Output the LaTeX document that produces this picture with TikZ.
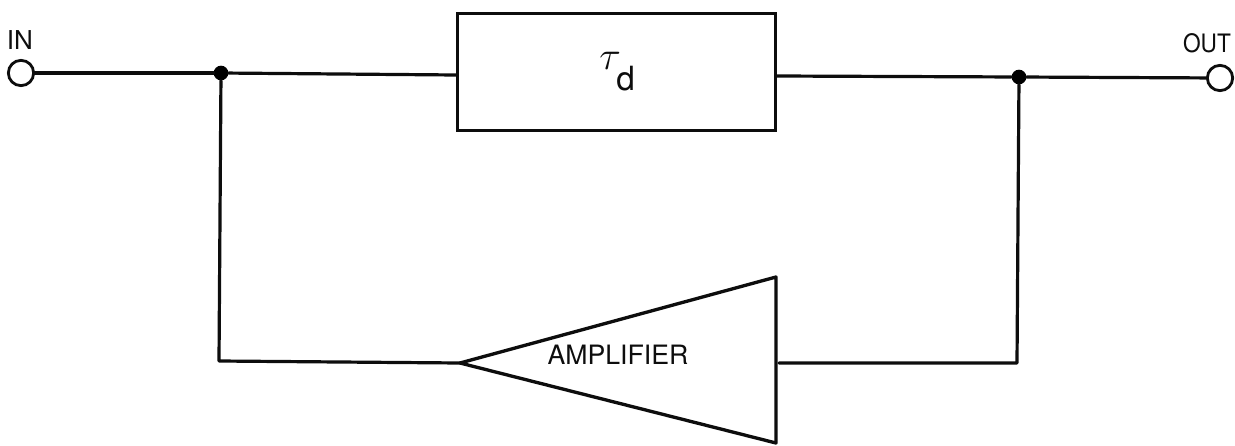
\documentclass[tikz,border=0pt]{standalone}
\usepackage{fontspec}
\setmainfont{TeX Gyre Heros}
\begin{document}
\begin{tikzpicture}[x=0.75pt,y=-0.75pt,
  wire/.style={draw=black!95,line width=2.4pt,line cap=round,line join=round},
  terminal/.style={circle,draw=black!95,line width=2.1pt,fill=white,minimum size=19pt,inner sep=0pt},
  junction/.style={circle,fill=black,minimum size=11pt,inner sep=0pt},
  delaybox/.style={rectangle,draw=black!95,line width=2.4pt,minimum width=238pt,minimum height=88pt,inner sep=0pt},
  lbl/.style={font=\fontsize{19.5}{22}\selectfont,inner sep=0pt,text=black!95}]
\useasboundingbox (0,0) rectangle (1235,446);
\coordinate (apex) at (460,363);
\coordinate (topr) at (776,277);
\coordinate (botr) at (776,443);
\coordinate (ampout) at (779,363);
\coordinate (c1) at (219,361);
\coordinate (c2) at (1017,363);
\node[delaybox] (box) at (616.5,72) {};
\node[junction] (j1) at (221,73) {};
\node[junction] (j2) at (1019,77) {};
\draw[wire] (j1) -- (box.west |- 0,75);
\draw[wire] (box.east |- 0,76) -- (j2);
\draw[wire] (j1) -- (c1) -- (apex);
\draw[wire] (j2) -- (c2) -- (ampout);
\draw[wire,line width=2.5pt] (apex) -- (topr) -- (botr) -- cycle;
\node[terminal] (in) at (21,73) {};
\node[terminal] (out) at (1220,78) {};
\draw[wire] (in) -- (j1);
\draw[wire] (j2) -- (out);
\node[lbl] (inlabel) at (20,40) {IN};
\node[lbl,font=\fontsize{17}{20}\selectfont,yscale=1.12] (outlabel) at (1207,43) {OUT};
\node[lbl,font=\fontsize{20}{22}\selectfont] (amp) at (618,355) {AMPLIFIER};
\node[lbl,anchor=base west] (tau) at (599,69) {\scalebox{1.45}{$\tau$}};
\node[lbl,anchor=base west] (d) at (616,90) {\fontsize{25}{28}\selectfont d};
\end{tikzpicture}
\end{document}
